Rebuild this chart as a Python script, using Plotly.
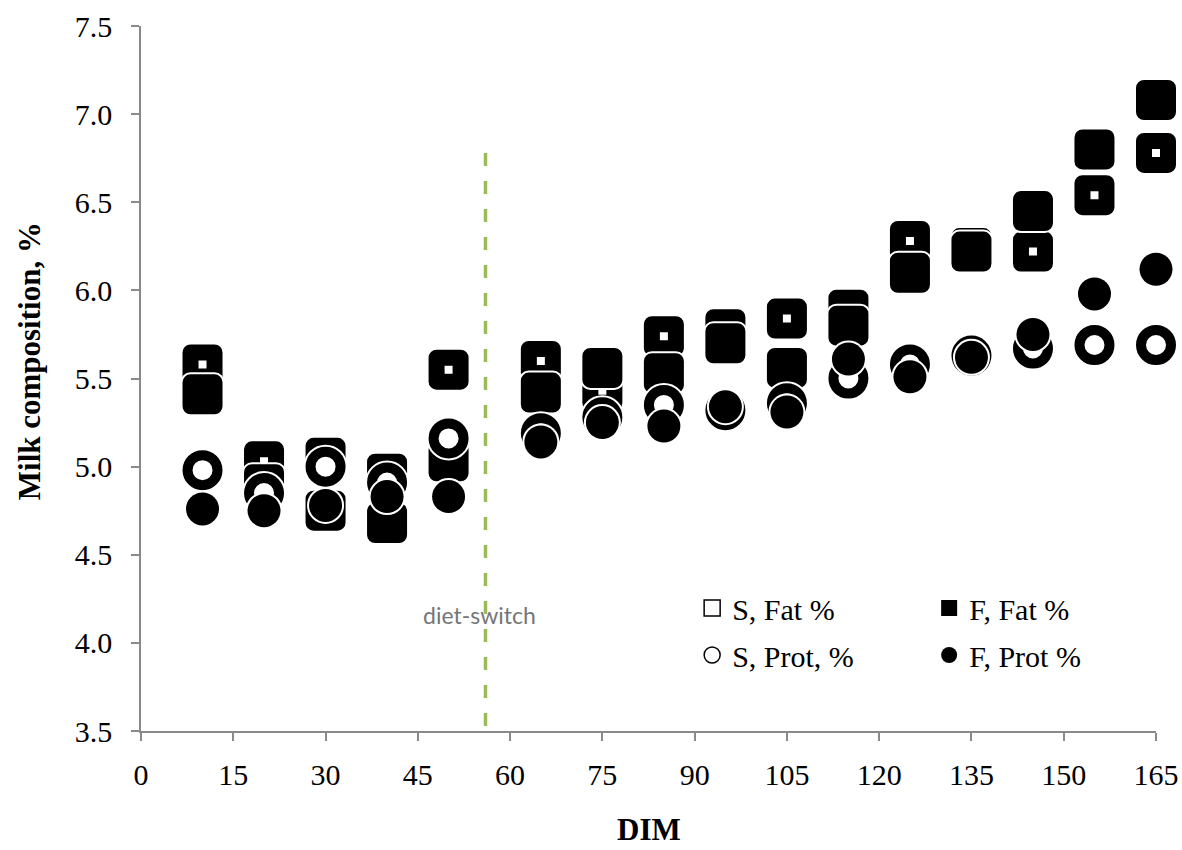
import plotly.graph_objects as go

# Days in milk at each sampling point
dim = [10, 20, 30, 40, 50, 65, 75, 85, 95, 105, 115, 125, 135, 145, 155, 165]

# Milk composition (%) per group
s_fat = [5.58, 5.03, 5.05, 4.96, 5.55, 5.60, 5.43, 5.74, 5.78, 5.84, 5.89, 6.28, 6.24, 6.22, 6.54, 6.78]
f_fat = [5.41, 4.90, 4.75, 4.68, 5.03, 5.42, 5.56, 5.53, 5.70, 5.56, 5.80, 6.10, 6.22, 6.45, 6.80, 7.08]
s_prot = [4.98, 4.85, 5.00, 4.91, 5.16, 5.19, 5.28, 5.35, 5.32, 5.36, 5.50, 5.58, 5.63, 5.67, 5.69, 5.69]
f_prot = [4.76, 4.75, 4.78, 4.83, 4.83, 5.14, 5.25, 5.23, 5.34, 5.31, 5.61, 5.51, 5.62, 5.75, 5.98, 6.12]

# Diet switch marker (drawn top-down so the dash pattern starts at the top)
switch_dim = [56, 56]
switch_span = [6.78, 3.5]

x_ticks = list(range(0, 166, 15))
y_ticks = [3.5, 4.0, 4.5, 5.0, 5.5, 6.0, 6.5, 7.0, 7.5]

SERIF = "Liberation Serif, Times New Roman, serif"
AXIS_GREY = "#898989"

fig = go.Figure()

fig.add_trace(go.Scatter(
    x=switch_dim, y=switch_span, mode="lines",
    line=dict(color="#9BBB59", width=3.5, dash="13px,15px"),
    showlegend=False, hoverinfo="skip", cliponaxis=False,
))


def add_series(name, y, symbol, size, line_w, fill):
    # white halo first so neighbouring markers stay visually separated
    fig.add_trace(go.Scatter(
        x=dim, y=y, mode="markers", showlegend=False, hoverinfo="skip",
        cliponaxis=False,
        marker=dict(symbol=symbol, size=size, color="white",
                    line=dict(color="white", width=line_w + 4)),
    ))
    fig.add_trace(go.Scatter(
        x=dim, y=y, mode="markers", name=name, showlegend=False,
        cliponaxis=False,
        marker=dict(symbol=symbol, size=size, color=fill,
                    line=dict(color="black", width=line_w)),
    ))


add_series("S, Fat %", s_fat, "square", 24, 16, "white")
add_series("F, Fat %", f_fat, "square", 24, 16, "black")
add_series("S, Prot, %", s_prot, "circle", 30, 10, "white")
add_series("F, Prot %", f_prot, "circle", 33, 0, "black")

# Legend entries (small symbols, two rows of two)
legend_items = [
    ("S, Fat %", "square", "white", 1.5, "legend"),
    ("F, Fat %", "square", "black", 0, "legend"),
    ("S, Prot, %", "circle", "white", 1.5, "legend2"),
    ("F, Prot %", "circle", "black", 0, "legend2"),
]
for name, sym, col, lw, lg in legend_items:
    fig.add_trace(go.Scatter(
        x=[None], y=[None], mode="markers", name=name, legend=lg,
        marker=dict(symbol=sym, size=16, color=col,
                    line=dict(color="black", width=lw)),
    ))

fig.add_annotation(
    x=55, y=4.16, xref="x", yref="y", text="diet-switch", showarrow=False,
    font=dict(family="Lato, Open Sans, sans-serif", size=23, color="#767676"),
)

# Axis titles
fig.add_annotation(
    x=-0.109, y=0.525, xref="paper", yref="paper", text="<b>Milk composition, %</b>",
    textangle=-90, showarrow=False, xanchor="center", yanchor="middle",
    font=dict(family=SERIF, size=31, color="black"),
)
fig.add_annotation(
    x=0.5, y=-0.1404, xref="paper", yref="paper", text="<b>DIM</b>",
    showarrow=False, xanchor="center", yanchor="middle",
    font=dict(family=SERIF, size=31, color="black"),
)

legend_style = dict(
    orientation="h", xanchor="left", yanchor="middle",
    font=dict(family=SERIF, size=30, color="black"),
    bgcolor="rgba(0,0,0,0)", entrywidth=192, itemsizing="trace",
)

fig.update_layout(
    width=1182, height=850,
    margin=dict(l=141, r=26, t=26, b=119, autoexpand=False),
    paper_bgcolor="white", plot_bgcolor="white",
    font=dict(family=SERIF, color="black"),
    legend=dict(legend_style, x=0.543, y=0.1745),
    legend2=dict(legend_style, x=0.543, y=0.1078),
    xaxis=dict(
        range=[0, 165], tickvals=x_ticks, ticktext=[str(v) for v in x_ticks],
        showgrid=False, zeroline=False, showline=True, linecolor=AXIS_GREY, linewidth=1.5,
        ticks="outside", ticklen=8, tickwidth=1.5, tickcolor=AXIS_GREY,
        ticklabelstandoff=8,
        tickfont=dict(family=SERIF, size=30, color="black"),
    ),
    yaxis=dict(
        range=[3.5, 7.5], tickvals=y_ticks, ticktext=[f"{v:.1f}" for v in y_ticks],
        showgrid=False, zeroline=False, showline=True, linecolor=AXIS_GREY, linewidth=1.5,
        ticks="outside", ticklen=8, tickwidth=1.5, tickcolor=AXIS_GREY,
        ticklabelstandoff=13,
        tickfont=dict(family=SERIF, size=30, color="black"),
    ),
)

# rounded corners on the thick marker outlines
post = """
var st = document.createElement('style');
st.textContent = '.scatterlayer path.point { stroke-linejoin: round; }';
document.head.appendChild(st);
"""

fig.write_html("out.html", post_script=post)
